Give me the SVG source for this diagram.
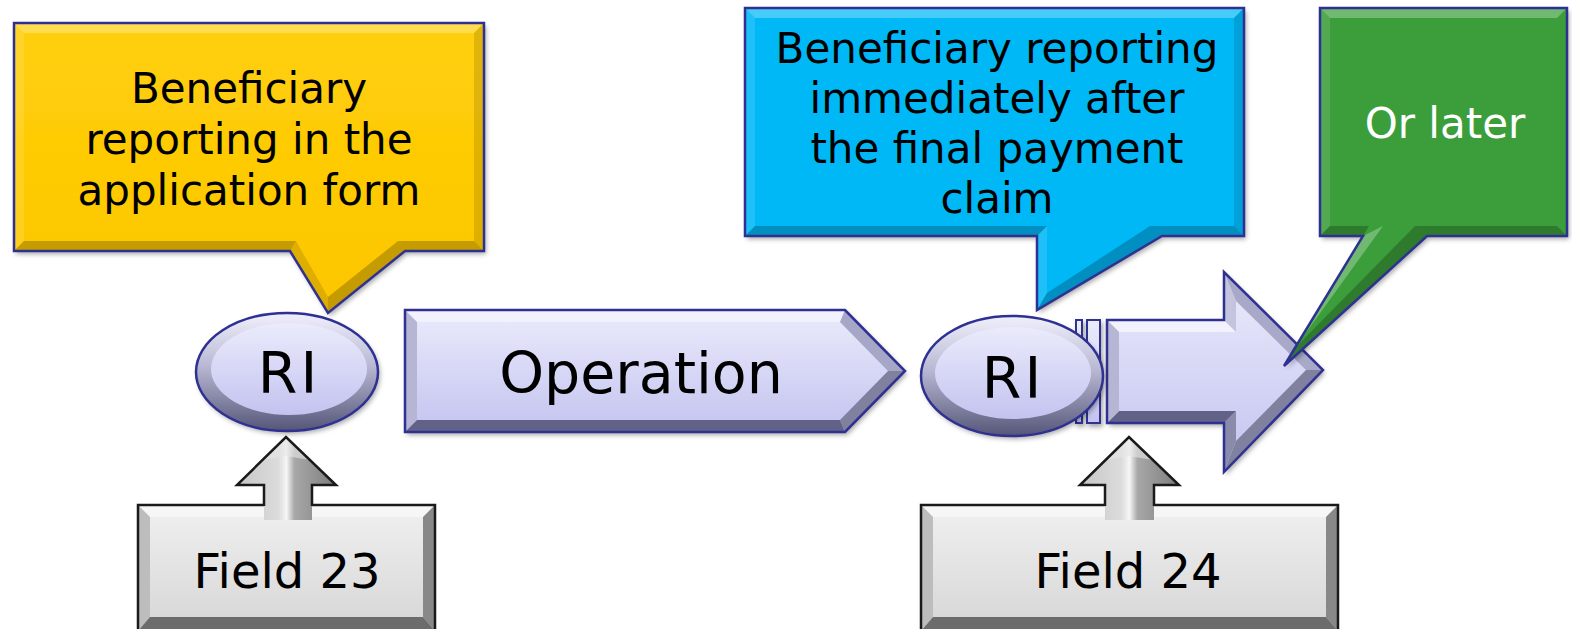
<svg xmlns="http://www.w3.org/2000/svg" width="1572" height="629" viewBox="0 0 1572 629">
<defs>
  <filter id="sh" x="-10%" y="-10%" width="125%" height="130%">
    <feDropShadow dx="2" dy="3" stdDeviation="2.5" flood-color="#000" flood-opacity="0.35"/>
  </filter>
  <linearGradient id="lav" x1="0" y1="0" x2="0" y2="1">
    <stop offset="0" stop-color="#ebebfc"/>
    <stop offset="1" stop-color="#c3c3f0"/>
  </linearGradient>
  <linearGradient id="rim" x1="0" y1="0" x2="0" y2="1">
    <stop offset="0" stop-color="#f0f0fc"/>
    <stop offset="0.45" stop-color="#b8b8d4"/>
    <stop offset="1" stop-color="#555578"/>
  </linearGradient>
  <linearGradient id="gray" x1="0" y1="0" x2="0" y2="1">
    <stop offset="0" stop-color="#f0f0f0"/>
    <stop offset="1" stop-color="#d6d6d6"/>
  </linearGradient>
  <linearGradient id="upArr" x1="0" y1="0" x2="1" y2="0">
    <stop offset="0" stop-color="#c6c6c6"/>
    <stop offset="0.42" stop-color="#dcdcdc"/>
    <stop offset="0.5" stop-color="#f6f6f6"/>
    <stop offset="0.58" stop-color="#a8a8a8"/>
    <stop offset="1" stop-color="#7c7c7c"/>
  </linearGradient>
  <linearGradient id="yel" x1="0" y1="0" x2="0" y2="1">
    <stop offset="0" stop-color="#ffcf0a"/>
    <stop offset="1" stop-color="#fcc600"/>
  </linearGradient>
</defs>
<style>
  .txt{font-family:"DejaVu Sans","Liberation Sans",sans-serif;text-anchor:middle;fill:#000}
  .co{font-size:42px}
  .big{font-size:57px}
  .ri{font-size:57px;letter-spacing:3px}
  .fld{font-size:48px}
  .hl{fill:#fff;opacity:0.28}
  .hl2{fill:#fff;opacity:0.12}
  .dk{fill:#000;opacity:0.22}
  .dk2{fill:#000;opacity:0.12}
  .edge{fill:none;stroke:#2e3192;stroke-width:2.5;stroke-linejoin:miter}
  .gedge{fill:none;stroke:#1a1a1a;stroke-width:2.5;stroke-linejoin:miter}
</style>

<g id="callout-yellow">
  <path d="M14,23 H484 V251 H405 L328,313 L290,251 H14 Z" fill="url(#yel)" filter="url(#sh)"/>
  <polygon class="hl" points="14,23 484,23 474,33 24,33"/>
  <polygon class="hl2" points="14,23 24,33 24,241 14,251"/>
  <polygon class="dk2" points="484,23 484,251 474,241 474,33"/>
  <polygon class="dk" points="14,251 290,251 296,241 24,241"/>
  <polygon class="dk2" points="290,251 328,313 328,297 296,241"/>
  <polygon class="dk" points="405,251 328,313 328,297 398,241"/>
  <polygon class="dk" points="398,241 474,241 484,251 405,251"/>
  <path class="edge" d="M14,23 H484 V251 H405 L328,313 L290,251 H14 Z"/>
  <text class="txt co" x="249" y="103">Beneficiary</text>
  <text class="txt co" x="249" y="154">reporting in the</text>
  <text class="txt co" x="249" y="205">application form</text>
</g>

<g id="callout-blue">
  <path d="M745,8 H1244 V236 H1162 L1037,310 V236 H745 Z" fill="#04b8f6" filter="url(#sh)"/>
  <polygon class="hl" points="745,8 1244,8 1234,18 755,18"/>
  <polygon class="hl2" points="745,8 755,18 755,226 745,236"/>
  <polygon class="dk2" points="1244,8 1244,236 1234,226 1234,18"/>
  <polygon class="dk" points="745,236 1037,236 1047,226 755,226"/>
  <polygon class="hl2" points="1037,236 1037,310 1047,293 1047,226"/>
  <polygon class="dk" points="1162,236 1037,310 1047,293 1150,226"/>
  <polygon class="dk" points="1150,226 1234,226 1244,236 1162,236"/>
  <path class="edge" d="M745,8 H1244 V236 H1162 L1037,310 V236 H745 Z"/>
  <text class="txt co" x="997" y="63">Beneficiary reporting</text>
  <text class="txt co" x="997" y="113">immediately after</text>
  <text class="txt co" x="997" y="163">the final payment</text>
  <text class="txt co" x="997" y="213">claim</text>
</g>

<g id="ri-left">
  <ellipse cx="287" cy="372" rx="91" ry="59" fill="url(#rim)" filter="url(#sh)"/>
  <ellipse cx="289" cy="369" rx="78" ry="46" fill="url(#lav)"/>
  <ellipse class="edge" cx="287" cy="372" rx="91" ry="59"/>
  <text class="txt ri" x="289" y="393">RI</text>
</g>

<g id="operation">
  <path d="M405,310 H845 L905,371 L845,432 H405 Z" fill="url(#lav)" filter="url(#sh)"/>
  <polygon points="405,310 845,310 840,322 417,322" fill="#f2f2ff"/>
  <polygon points="405,310 417,322 417,420 405,432" fill="#b6b6d4"/>
  <polygon points="845,310 905,371 888,371 840,322" fill="#a6a6c6"/>
  <polygon points="905,371 845,432 840,420 888,371" fill="#80809f"/>
  <polygon points="405,432 845,432 840,420 417,420" fill="#626288"/>
  <path class="edge" d="M405,310 H845 L905,371 L845,432 H405 Z"/>
  <text class="txt big" x="641" y="393">Operation</text>
</g>

<g id="later-arrow">
  <g filter="url(#sh)">
    <rect x="1076" y="320" width="6" height="103" fill="url(#lav)" stroke="#2e3192" stroke-width="2"/>
    <rect x="1087" y="320" width="13" height="103" fill="url(#lav)" stroke="#2e3192" stroke-width="2"/>
    <path d="M1107,320 H1224 V272 L1323,370 L1224,472 V423 H1107 Z" fill="url(#lav)"/>
  </g>
  <polygon points="1107,320 1224,320 1236,332 1119,332" fill="#f2f2ff"/>
  <polygon points="1224,320 1224,272 1236,301 1236,332" fill="#c4c4de"/>
  <polygon points="1224,272 1323,370 1306,370 1236,301" fill="#a8a8c8"/>
  <polygon points="1323,370 1224,472 1236,441 1306,370" fill="#80809f"/>
  <polygon points="1224,472 1224,423 1236,411 1236,441" fill="#8a8aaa"/>
  <polygon points="1224,423 1107,423 1119,411 1236,411" fill="#626288"/>
  <polygon points="1107,320 1119,332 1119,411 1107,423" fill="#b6b6d4"/>
  <path class="edge" d="M1107,320 H1224 V272 L1323,370 L1224,472 V423 H1107 Z"/>
</g>

<g id="ri-right">
  <ellipse cx="1012" cy="376" rx="91" ry="60" fill="url(#rim)" filter="url(#sh)"/>
  <ellipse cx="1013" cy="373" rx="78" ry="46" fill="url(#lav)"/>
  <ellipse class="edge" cx="1012" cy="376" rx="91" ry="60"/>
  <text class="txt ri" x="1013" y="398">RI</text>
</g>

<g id="callout-green">
  <path d="M1320,8 H1567 V236 H1427 L1284,366 L1363,236 H1320 Z" fill="#3a9e3a" filter="url(#sh)"/>
  <polygon class="hl" points="1320,8 1567,8 1557,18 1330,18"/>
  <polygon class="hl2" points="1320,8 1330,18 1330,226 1320,236"/>
  <polygon class="dk" points="1320,236 1363,236 1369,226 1330,226"/>
  <polygon class="hl" points="1363,236 1284,366 1292,352 1383,226"/>
  <polygon class="dk" points="1427,236 1284,366 1296,347 1415,226"/>
  <polygon class="dk" points="1415,226 1557,226 1567,236 1427,236"/>
  <path class="edge" d="M1320,8 H1567 V236 H1427 L1284,366 L1363,236 H1320 Z"/>
  <text class="txt co" x="1445" y="138" style="fill:#fff">Or later</text>
</g>

<g id="field23">
  <rect x="138" y="505" width="297" height="126" fill="url(#gray)"/>
  <polygon points="138,505 435,505 423,517 150,517" fill="#f6f6f6"/>
  <polygon points="138,505 150,517 150,617 138,631" fill="#bdbdbd"/>
  <polygon points="435,505 435,631 423,617 423,517" fill="#888"/>
  <polygon points="138,631 150,617 423,617 435,631" fill="#6c6c6c"/>
  <rect class="gedge" x="138" y="505" width="297" height="130"/>
  <text class="txt fld" x="287" y="588">Field 23</text>
</g>

<g id="field24">
  <rect x="921" y="505" width="417" height="126" fill="url(#gray)"/>
  <polygon points="921,505 1338,505 1326,517 933,517" fill="#f6f6f6"/>
  <polygon points="921,505 933,517 933,617 921,631" fill="#bdbdbd"/>
  <polygon points="1338,505 1338,631 1326,617 1326,517" fill="#888"/>
  <polygon points="921,631 933,617 1326,617 1338,631" fill="#6c6c6c"/>
  <rect class="gedge" x="921" y="505" width="417" height="130"/>
  <text class="txt fld" x="1128" y="588">Field 24</text>
</g>

<g id="connectors">
  <g id="up-arrow-23">
    <polygon points="264,520 264,485 237,485 286,437 336,485 312,485 312,520" fill="url(#upArr)"/>
    <polygon points="286,437 262,460 286,456 310,460" fill="#e6e6e6" opacity="0.6"/>
    <path class="gedge" d="M264,506 V485 H237 L286,437 L336,485 H312 V506"/>
  </g>
  <g id="up-arrow-24">
    <polygon points="1105,520 1105,485 1080,485 1129,437 1179,485 1154,485 1154,520" fill="url(#upArr)"/>
    <polygon points="1129,437 1105,460 1129,456 1153,460" fill="#e6e6e6" opacity="0.6"/>
    <path class="gedge" d="M1105,506 V485 H1080 L1129,437 L1179,485 H1154 V506"/>
  </g>
</g>
</svg>
